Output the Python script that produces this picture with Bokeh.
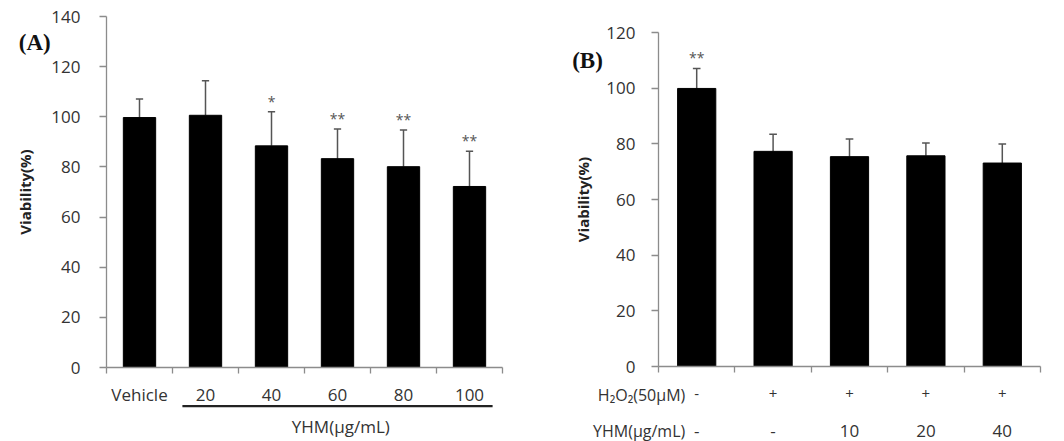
from bokeh.plotting import figure
from bokeh.layouts import row
from bokeh.models import FixedTicker, Range1d
from bokeh.core.properties import value
from bokeh.embed import file_html
from bokeh.resources import INLINE

# ---------------- Panel A data ----------------
a_categories = ["Vehicle", "20", "40", "60", "80", "100"]
a_viability = [99.7, 100.6, 88.4, 83.3, 80.1, 72.2]
a_sd = [7.4, 13.8, 13.6, 11.8, 14.6, 14.1]
a_marks = ["", "", "*", "**", "**", "**"]
a_yticks = [0, 20, 40, 60, 80, 100, 120, 140]
a_group_label = "YHM(\u03bcg/mL)"

# ---------------- Panel B data ----------------
b_h2o2 = ["-", "+", "+", "+", "+"]
b_yhm = ["-", "-", "10", "20", "40"]
b_viability = [99.9, 77.3, 75.4, 75.7, 73.1]
b_sd = [7.2, 6.1, 6.3, 4.6, 6.8]
b_marks = ["**", "", "", "", ""]
b_yticks = [0, 20, 40, 60, 80, 100, 120]
b_row_titles = ["H\u2082O\u2082(50\u03bcM)", "YHM(\u03bcg/mL)"]

FONT = "Open Sans"
AXIS_GREY = "#8c8c8c"
TEXT = "#333333"


def make_panel(width, height, ncat, ymax, ax_left, ax_right, ax_top, ax_bottom):
    """Frame covers the whole canvas; axes are pinned with fixed_location."""
    ppx = (ax_right - ax_left) / ncat          # pixels per category
    ppy = (ax_bottom - ax_top) / ymax          # pixels per y unit
    x0 = -0.5 - ax_left / ppx
    x1 = ncat - 0.5 + (width - ax_right) / ppx
    y0 = -(height - ax_bottom) / ppy
    y1 = ymax + ax_top / ppy
    p = figure(width=width, height=height,
               x_range=Range1d(x0, x1), y_range=Range1d(y0, y1),
               output_backend="svg", toolbar_location=None,
               min_border=0, min_border_left=0, min_border_right=0,
               min_border_top=0, min_border_bottom=0)
    p.outline_line_color = None
    p.grid.visible = False
    p.background_fill_color = "white"
    p.border_fill_color = "white"
    return p


def style_axes(p, yticks, ymax, ncat, labels, ystand, ylabstand, xstand, xfs):
    ya = p.yaxis[0]
    ya.fixed_location = -0.5
    ya.bounds = (0, ymax)
    ya.ticker = FixedTicker(ticks=yticks)
    ya.axis_label = "Viability(%)"
    ya.axis_label_text_font = FONT
    ya.axis_label_text_font_style = "bold"
    ya.axis_label_text_font_size = "15px"
    ya.axis_label_text_color = "#222222"
    ya.axis_label_standoff = ylabstand
    ya.major_tick_out = 7
    ya.major_tick_in = 0
    ya.minor_tick_line_color = None
    ya.major_label_standoff = ystand
    ya.major_label_text_font = FONT
    ya.major_label_text_font_size = "17px"
    ya.major_label_text_color = TEXT
    ya.axis_line_color = AXIS_GREY
    ya.major_tick_line_color = AXIS_GREY
    ya.axis_line_width = 1.3
    ya.major_tick_line_width = 1.3

    xa = p.xaxis[0]
    xa.fixed_location = 0
    xa.bounds = (-0.5, ncat - 0.5)
    xa.ticker = FixedTicker(ticks=list(range(ncat)),
                            minor_ticks=[i - 0.5 for i in range(ncat + 1)])
    xa.major_label_overrides = {i: lab for i, lab in enumerate(labels)}
    xa.major_tick_line_color = None
    xa.major_tick_out = 0
    xa.major_tick_in = 0
    xa.minor_tick_out = 6
    xa.minor_tick_in = 0
    xa.minor_tick_line_color = AXIS_GREY
    xa.minor_tick_line_width = 1.3
    xa.axis_line_color = AXIS_GREY
    xa.axis_line_width = 1.3
    xa.major_label_standoff = xstand
    xa.major_label_text_font = FONT
    xa.major_label_text_font_size = xfs
    xa.major_label_text_color = TEXT


def draw_bars(p, vals, sds, marks, bar_w, cap_half):
    xs = list(range(len(vals)))
    upper = [v + s for v, s in zip(vals, sds)]
    p.segment(x0=xs, y0=vals, x1=xs, y1=upper, line_color="#555555", line_width=1.5)
    p.segment(x0=[x - cap_half for x in xs], y0=upper,
              x1=[x + cap_half for x in xs], y1=upper,
              line_color="#555555", line_width=1.5)
    p.vbar(x=xs, top=vals, bottom=0, width=bar_w,
           fill_color="black", line_color="black")
    p.text(x=xs, y=upper, text=marks, text_align="center",
           text_baseline="bottom", text_font=value(FONT), y_offset=-1,
           text_font_size="14px", text_color="#555555")


def put_text(p, x, y, txt, align="center", size="17px", font=FONT,
             style="normal", color=TEXT):
    p.text(x=[x], y=[y], text=[txt], text_align=align, text_baseline="middle",
           text_font=value(font), text_font_style=style,
           text_font_size=size, text_color=color)


# ---------------- Panel A ----------------
pA = make_panel(520, 441, len(a_categories), 140, 106, 502, 16, 367)
style_axes(pA, a_yticks, 140, len(a_categories), a_categories, 19, 13, 9, "17px")
draw_bars(pA, a_viability, a_sd, a_marks, 0.49, 0.055)

pA.segment(x0=[0.65], y0=[-15.4], x1=[5.35], y1=[-15.4],
           line_color="#222222", line_width=2.2)
put_text(pA, 3.05, -23.4, a_group_label)
put_text(pA, -1.83, 129.6, "(A)", align="left", size="23px",
         font="Liberation Serif", style="bold", color="#111111")

# ---------------- Panel B ----------------
pB = make_panel(544, 441, len(b_h2o2), 120, 138, 520, 32, 366)
style_axes(pB, b_yticks, 120, len(b_h2o2), b_h2o2, 16, 10, 16, "15px")
draw_bars(pB, b_viability, b_sd, b_marks, 0.5, 0.05)

put_text(pB, -0.15, -10.4, b_row_titles[0], align="right", size="16px")
put_text(pB, -0.15, -23.0, b_row_titles[1], align="right", size="16px")
for i, lab in enumerate(b_yhm):
    put_text(pB, i, -23.0, lab)
put_text(pB, -1.63, 110.0, "(B)", align="left", size="23px",
         font="Liberation Serif", style="bold", color="#111111")

layout = row(pA, pB)
open("out.html", "w").write(file_html(layout, INLINE))
